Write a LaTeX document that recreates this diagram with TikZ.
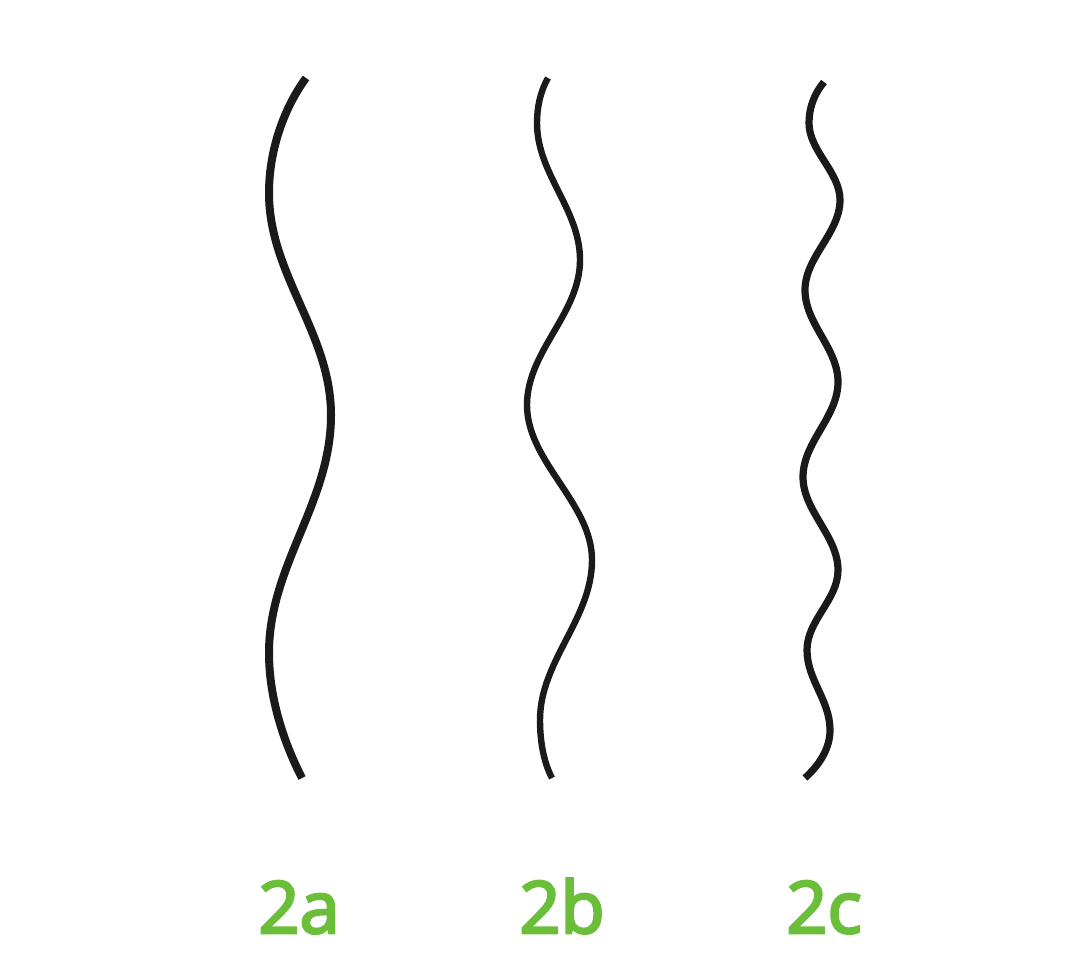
\documentclass[tikz,border=0pt]{standalone}
\usepackage{fontspec}
\setmainfont{Open Sans}
\font\lblfnt="Open Sans:embolden=3.5" at 36pt
\definecolor{labelgreen}{RGB}{106,190,58}
\definecolor{wavecol}{RGB}{26,26,26}
\tikzset{
  wavea/.style={draw=wavecol, line width=4.0pt, line cap=butt},
  waveb/.style={draw=wavecol, line width=3.2pt, line cap=butt},
  wavec/.style={draw=wavecol, line width=3.6pt, line cap=butt},
  lbl/.style={text=labelgreen, anchor=base, inner sep=0pt, font=\lblfnt}
}
\begin{document}
\begin{tikzpicture}[x=0.5pt,y=-0.5pt]
\useasboundingbox (0,0) rectangle (1080,969);
\fill[white] (0,0) rectangle (1080,969);
% 2a
\draw[wavea] (306,78) .. controls (284,108) and (269,150) .. (269,193)
  .. controls (269,275) and (331,333) .. (331,415)
  .. controls (331,503) and (269,565) .. (269,653)
  .. controls (269,700) and (285,745) .. (302,778);
% 2b
\draw[waveb] (548,78) .. controls (540,92) and (537,108) .. (537,123)
  .. controls (537,174) and (580,209) .. (580,260)
  .. controls (580,314) and (527,351) .. (527,405)
  .. controls (527,462) and (592,503) .. (592,560)
  .. controls (592,619) and (540,661) .. (540,720)
  .. controls (540,745) and (545,765) .. (552,778);
% 2c
\draw[wavec] (824,82) .. controls (814,94) and (809,108) .. (809,123)
  .. controls (809,151) and (840,172) .. (840,200)
  .. controls (840,233) and (805,257) .. (805,290)
  .. controls (805,324) and (838,348) .. (838,382)
  .. controls (838,417) and (803,442) .. (803,477)
  .. controls (803,511) and (838,536) .. (838,570)
  .. controls (838,600) and (807,620) .. (807,650)
  .. controls (807,680) and (830,700) .. (830,730)
  .. controls (830,750) and (818,766) .. (805,778);
\node[lbl] (la) at (299,933) {2a};
\node[lbl] (lb) at (562,933) {2b};
\node[lbl] (lc) at (824,933) {2c};
\end{tikzpicture}
\end{document}
